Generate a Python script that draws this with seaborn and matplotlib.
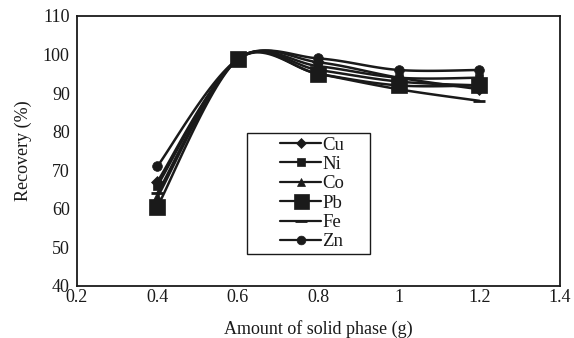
import numpy as np
import pandas as pd
import matplotlib
matplotlib.use("Agg")
import matplotlib.pyplot as plt
import seaborn as sns
from matplotlib.lines import Line2D
from matplotlib.patches import Rectangle

amount = [0.4, 0.6, 0.8, 1.0, 1.2]
cu = [67, 98.8, 98, 94, 91]
ni = [66, 98.8, 97, 94, 94]
co = [63, 98.8, 96, 93, 92]
pb = [60.5, 98.8, 95, 92, 92]
fe = [64, 98.8, 95, 91, 88]
zn = [71, 98.8, 99, 96, 96]
metals = ["Cu", "Ni", "Co", "Pb", "Fe", "Zn"]
series = [cu, ni, co, pb, fe, zn]

sns.set_style("white")
plt.rcParams["font.family"] = ["Liberation Serif", "DejaVu Serif"]

df = pd.DataFrame({
    "amount": np.tile(amount, len(metals)),
    "recovery": np.concatenate(series),
    "metal": np.repeat(metals, len(amount)),
})

fig = plt.figure(figsize=(5.74, 3.38), dpi=100)
ax = fig.add_axes([76.7 / 574, 1 - 286 / 338, (560 - 76.7) / 574, (286 - 16) / 338])


def smooth(xs, ys, n=30):
    # Excel-style smoothed line rendering (Bezier through data points)
    xs = np.asarray(xs, float)
    ys = np.asarray(ys, float)
    px, py = [], []
    m = len(xs)
    for i in range(m - 1):
        p0 = np.array([xs[max(i - 1, 0)], ys[max(i - 1, 0)]])
        p1 = np.array([xs[i], ys[i]])
        p2 = np.array([xs[i + 1], ys[i + 1]])
        p3 = np.array([xs[min(i + 2, m - 1)], ys[min(i + 2, m - 1)]])
        c1 = p1 + (p2 - p0) / 6
        c2 = p2 - (p3 - p1) / 6
        t = np.linspace(0, 1, n)[:, None]
        b = (1 - t) ** 3 * p1 + 3 * (1 - t) ** 2 * t * c1 + 3 * (1 - t) * t ** 2 * c2 + t ** 3 * p2
        px.extend(b[:, 0])
        py.extend(b[:, 1])
    return np.array(px), np.array(py)


markers = {"Cu": "D", "Ni": "s", "Co": "^", "Pb": "s", "Fe": "_", "Zn": "o"}
msizes = {"Cu": 6, "Ni": 6, "Co": 7, "Pb": 12, "Fe": 9, "Zn": 7}
ink = "#1a1a1a"

for metal in metals:
    sub = df[df.metal == metal]
    sx, sy = smooth(sub.amount.values, sub.recovery.values)
    sns.lineplot(x=sx, y=sy, ax=ax, color=ink, lw=1.8, sort=False, estimator=None)
    mk = markers[metal]
    ax.plot(sub.amount, sub.recovery, ls="none", marker=mk, ms=msizes[metal],
            color=ink, mew=2 if mk == "_" else 0.5)

ax.set_xlim(0.2, 1.4)
ax.set_ylim(40, 110)
ax.set_xticks([0.2, 0.4, 0.6, 0.8, 1.0, 1.2, 1.4])
ax.set_xticklabels(["0.2", "0.4", "0.6", "0.8", "1", "1.2", "1.4"])
ax.set_yticks(range(40, 111, 10))
ax.tick_params(direction="in", length=5, width=1, labelsize=13, colors=ink)
ax.tick_params(axis="x", pad=2)
ax.tick_params(axis="y", pad=5)
for s in ax.spines.values():
    s.set_color(ink)
    s.set_linewidth(1.3)
ax.set_xlabel("Amount of solid phase (g)", fontsize=13, color=ink, labelpad=10)
ax.set_ylabel("Recovery (%)", fontsize=13, color=ink, labelpad=8)

# legend box
ax.add_patch(Rectangle((0.352, 0.119), 0.255, 0.448, transform=ax.transAxes,
                       fill=True, facecolor="white", edgecolor=ink, lw=1.0, zorder=5))
handles = [Line2D([], [], color=ink, lw=1.6, marker=markers[m], ms=msizes[m] * 0.9,
                  mew=2 if markers[m] == "_" else 0.5) for m in metals]
leg = ax.legend(handles, metals, loc="center", bbox_to_anchor=(0.487, 0.3426),
                frameon=False, fontsize=13.5, handlelength=2.2,
                handletextpad=0.05, labelspacing=0.12, borderpad=0, borderaxespad=0)
leg.set_zorder(6)
for t in leg.get_texts():
    t.set_color(ink)

fig.savefig("out.png", dpi=100, facecolor="white")
